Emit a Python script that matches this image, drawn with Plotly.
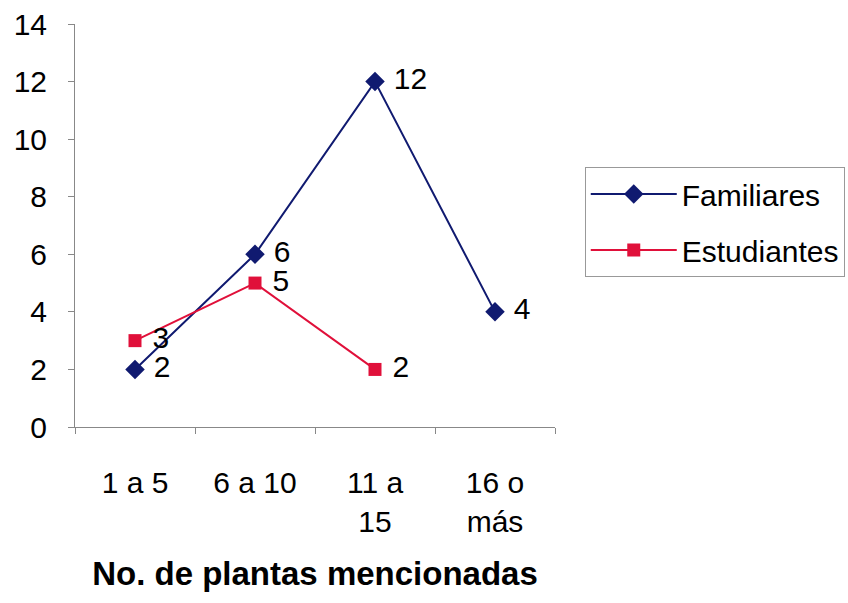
import plotly.graph_objects as go

categories = ["1 a 5", "6 a 10", "11 a<br>15", "16 o<br>más"]
familiares = [2, 6, 12, 4]
estudiantes = [3, 5, 2]

FONT = "Liberation Sans, Arial, sans-serif"
NAVY = "#101a70"
RED = "#e0103a"
SIZE = 30

fig = go.Figure()
fig.add_trace(go.Scatter(
    x=categories, y=familiares, name="Familiares", legendgroup="f",
    mode="lines+markers+text",
    line=dict(color=NAVY, width=2),
    marker=dict(symbol="diamond", size=15, color=NAVY),
    text=[" " + str(v) for v in familiares],
    textposition="middle right",
    textfont=dict(family=FONT, size=SIZE, color="black"),
    cliponaxis=False,
))
fig.add_trace(go.Scatter(
    x=categories[:len(estudiantes)], y=estudiantes, name="Estudiantes", legendgroup="e",
    mode="lines+markers+text",
    line=dict(color=RED, width=2),
    marker=dict(symbol="square", size=13, color=RED),
    text=[" " + str(v) for v in estudiantes],
    textposition="middle right",
    textfont=dict(family=FONT, size=SIZE, color="black"),
    cliponaxis=False,
))

fig.update_layout(
    width=848, height=603,
    margin=dict(l=75, r=293, t=24, b=176, autoexpand=False),
    paper_bgcolor="white", plot_bgcolor="white",
    font=dict(family=FONT, size=SIZE, color="black"),
    showlegend=True,
    legend=dict(
        x=1.062, y=0.645, xanchor="left", yanchor="top",
        bordercolor="#999999", borderwidth=1, bgcolor="white",
        font=dict(family=FONT, size=SIZE, color="black"),
        itemwidth=86, tracegroupgap=14, traceorder="grouped",
    ),
    xaxis=dict(
        type="category", range=[-0.5, 3.5],
        showline=True, linecolor="#888888", linewidth=1,
        ticks="outside", tickson="boundaries", ticklen=6, tickcolor="#888888",
        ticklabelstandoff=29,
        showgrid=False, zeroline=False,
        tickfont=dict(family=FONT, size=SIZE),
        title=dict(text="<b>No. de plantas mencionadas</b>",
                   font=dict(family=FONT, size=33), standoff=24),
    ),
    yaxis=dict(
        range=[0, 14], dtick=2,
        showline=True, linecolor="#888888", linewidth=1,
        ticks="outside", ticklen=6, tickcolor="#888888",
        ticklabelstandoff=15,
        showgrid=False, zeroline=False,
        tickfont=dict(family=FONT, size=SIZE),
    ),
)

fig.write_html("out.html")
